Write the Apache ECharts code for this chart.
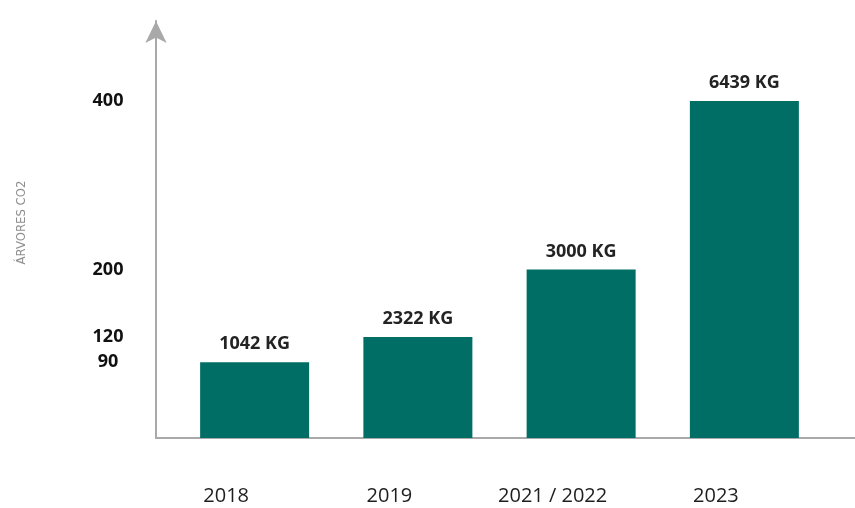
<!DOCTYPE html>
<html>
<head>
<meta charset="utf-8">
<script src="https://cdn.jsdelivr.net/npm/echarts@6/dist/echarts.min.js"></script>
<style>
html,body{margin:0;padding:0;background:#fff;}
#chart{width:855px;height:508px;}
</style>
</head>
<body>
<div id="chart"></div>
<script>
// ---- data ----
const categories = ['2018', '2019', '2021 / 2022', '2023'];
const treeValues = [90, 120, 200, 400];
const co2Kg = [1042, 2322, 3000, 6439];
const yTickValues = [90, 120, 200, 400];
const yAxisName = 'ÁRVORES CO2';

const Y_MAX = 495;
const axisGrey = '#a9a9a9';

const chart = echarts.init(document.getElementById('chart'), null, { renderer: 'canvas' });

chart.setOption({
  backgroundColor: '#ffffff',
  animation: false,
  textStyle: { fontFamily: '"Open Sans", sans-serif' },
  grid: [
    { left: 173, right: 29, top: 21, bottom: 70 },
    { left: 156, right: 0, top: 21, bottom: 70 }
  ],
  xAxis: [
    {
      type: 'category',
      gridIndex: 0,
      data: categories,
      axisLine: { show: false },
      axisTick: { show: false },
      axisLabel: {
        show: true,
        margin: 48,
        fontSize: 20,
        color: '#1e1e1e',
        fontFamily: '"Open Sans", sans-serif',
        padding: [0, 57, 0, 0]
      }
    },
    {
      type: 'value',
      gridIndex: 1,
      min: 0,
      max: 1,
      axisLine: { show: true, onZero: false, lineStyle: { color: axisGrey, width: 2 } },
      axisTick: { show: false },
      axisLabel: { show: false },
      splitLine: { show: false }
    }
  ],
  yAxis: [
    {
      type: 'value',
      gridIndex: 0,
      min: 0,
      max: Y_MAX,
      show: false,
      splitLine: { show: false }
    },
    {
      type: 'value',
      gridIndex: 1,
      min: 0,
      max: Y_MAX,
      name: yAxisName,
      nameLocation: 'middle',
      nameGap: 128,
      nameRotate: 90,
      nameTextStyle: {
        fontFamily: '"Liberation Sans Narrow", "DejaVu Sans Condensed", sans-serif',
        fontSize: 13,
        color: '#8f8f8f',
        padding: [0, 0, 0, 14]
      },
      axisLine: {
        show: true,
        onZero: false,
        symbol: ['none', 'arrow'],
        symbolSize: [16, 22],
        lineStyle: { color: axisGrey, width: 2 }
      },
      axisTick: { show: false },
      splitLine: { show: false },
      axisLabel: {
        show: true,
        customValues: yTickValues,
        margin: 48,
        align: 'center',
        fontSize: 18,
        fontWeight: 'bold',
        color: '#111111',
        fontFamily: '"Open Sans", sans-serif'
      }
    }
  ],
  series: [
    {
      type: 'bar',
      xAxisIndex: 0,
      yAxisIndex: 0,
      data: treeValues,
      barWidth: 109,
      itemStyle: { color: '#006e64' },
      label: {
        show: true,
        position: 'top',
        distance: 9,
        fontSize: 18,
        fontWeight: 'bold',
        color: '#232323',
        fontFamily: '"Open Sans", sans-serif',
        formatter: p => co2Kg[p.dataIndex] + ' KG'
      }
    }
  ]
});
</script>
</body>
</html>
